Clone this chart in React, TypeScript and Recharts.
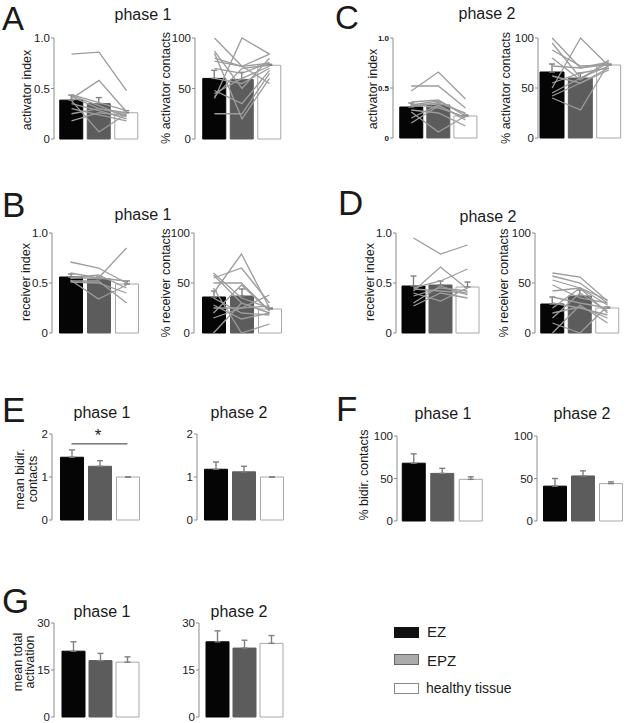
import React from 'react';
import { ComposedChart, Bar, Line, Cell, XAxis, YAxis, ErrorBar, ReferenceLine } from 'recharts';

const CATS = ['EZ', 'EPZ', 'healthy tissue'];
const FILLS = ['#050505', '#5c5c5c', '#ffffff'];
const STROKES = ['#050505', '#5c5c5c', '#a8a8a8'];
const FONT = 'Arial, "Liberation Sans", Helvetica, sans-serif';

// A: activator, phase 1
const actIdxP1Means = [0.385, 0.35, 0.26];
const actIdxP1Errs = [0.05, 0.06, 0.02];
const actIdxP1Subj = [
  [0.84, 0.86, 0.48], [0.4, 0.58, 0.27], [0.38, 0.07, 0.25], [0.44, 0.36, 0.28], [0.43, 0.33, 0.22],
  [0.35, 0.28, 0.2], [0.25, 0.3, 0.24], [0.18, 0.26, 0.23], [0.42, 0.3, 0.26], [0.3, 0.24, 0.18],
];
const actPctP1Means = [60, 59, 73];
const actPctP1Errs = [8, 7, 1];
const actPctP1Subj = [
  [100, 72, 75], [87, 50, 80], [77, 72, 84], [42, 70, 73], [45, 60, 72], [48, 35, 68], [25, 25, 65],
  [85, 20, 60], [80, 72, 55], [40, 100, 84], [60, 55, 70], [70, 65, 76],
];
// C: activator, phase 2
const actIdxP2Means = [0.31, 0.33, 0.22];
const actIdxP2Errs = [0.04, 0.03, 0.01];
const actIdxP2Subj = [
  [0.52, 0.52, 0.3], [0.47, 0.66, 0.39], [0.36, 0.38, 0.22], [0.33, 0.37, 0.24], [0.26, 0.06, 0.22],
  [0.15, 0.32, 0.2], [0.28, 0.25, 0.12], [0.34, 0.3, 0.21], [0.2, 0.33, 0.18], [0.32, 0.35, 0.25],
];
const actPctP2Means = [66, 60, 73];
const actPctP2Errs = [8, 5, 1];
const actPctP2Subj = [
  [95, 60, 75], [88, 72, 73], [80, 58, 78], [50, 100, 72], [40, 28, 75], [42, 55, 70],
  [62, 55, 68], [45, 60, 72], [100, 70, 76], [72, 70, 74], [55, 65, 70],
];
// B: receiver, phase 1
const recIdxP1Means = [0.56, 0.54, 0.49];
const recIdxP1Errs = [0.03, 0.02, 0.03];
const recIdxP1Subj = [
  [0.71, 0.65, 0.5], [0.55, 0.55, 0.85], [0.53, 0.34, 0.48], [0.52, 0.52, 0.3],
  [0.55, 0.58, 0.45], [0.6, 0.55, 0.52], [0.51, 0.5, 0.4],
];
const recPctP1Means = [36, 37, 24];
const recPctP1Errs = [6, 7, 1];
const recPctP1Subj = [
  [58, 30, 20], [50, 50, 22], [40, 79, 25], [55, 65, 30], [20, 48, 22], [15, 25, 38],
  [0, 30, 20], [28, 14, 20], [35, 20, 18], [60, 35, 25], [25, 25, 27], [45, 0, 9],
];
// D: receiver, phase 2
const recIdxP2Means = [0.47, 0.48, 0.46];
const recIdxP2Errs = [0.1, 0.04, 0.05];
const recIdxP2Subj = [
  [0.95, 0.79, 0.88], [0.45, 0.52, 0.64], [0.42, 0.66, 0.44], [0.37, 0.45, 0.42],
  [0.27, 0.4, 0.35], [0.4, 0.32, 0.45], [0.44, 0.42, 0.4], [0.3, 0.47, 0.38],
];
const recPctP2Means = [29, 37, 25];
const recPctP2Errs = [7, 6, 1];
const recPctP2Subj = [
  [60, 56, 32], [57, 50, 30], [53, 45, 28], [42, 45, 33], [36, 30, 25], [25, 45, 20],
  [15, 40, 22], [0, 28, 10], [10, 0, 27], [30, 25, 18], [48, 35, 30], [20, 26, 15],
];
// E: mean bidirectional contacts
const bidirP1Means = [1.46, 1.25, 1.0];
const bidirP1Errs = [0.17, 0.13, 0];
const bidirP2Means = [1.18, 1.12, 1.0];
const bidirP2Errs = [0.17, 0.13, 0];
// F: % bidirectional contacts
const bidirPctP1Means = [68, 56, 49];
const bidirPctP1Errs = [11, 6, 3];
const bidirPctP2Means = [41, 53, 44];
const bidirPctP2Errs = [9, 6, 2];
// G: mean total activation
const totActP1Means = [21, 18, 17.5];
const totActP1Errs = [3, 2.3, 1.7];
const totActP2Means = [24, 22, 23.5];
const totActP2Errs = [3.5, 2.5, 2.5];

const IDX_TICKS = [0, 0.5, 1];
const IDX_LABELS = ['0', '0.5', '1.0'];
const PCT_TICKS = [0, 50, 100];
const BIDIR_TICKS = [0, 1, 2];
const ACT_TICKS = [0, 15, 30];

type Geo = { axis: number; x0: number; x2: number; end: number; top: number; zero: number; bw?: number };

function Panel({ g, max, ticks, labels, means, errs, subjects = [], small, sig }: any) {
  const geo: Geo = g;
  const bw = geo.bw ?? 23;
  const YW = 40, MT = 9, MB = 9, MR = 2;
  const c0 = geo.x0 + bw / 2;
  const c2 = geo.x2 - bw / 2;
  const step = (c2 - c0) / 2;
  const padL = Math.max(0, c0 - step / 2 - geo.axis);
  const padR = Math.max(0, geo.end - (c2 + step / 2));
  const width = YW + (geo.end - geo.axis) + MR;
  const height = MT + (geo.zero - geo.top) + MB;

  const data = CATS.map((c, i) => {
    const row: any = { cat: c, mean: means[i], err: [0, errs[i]] };
    subjects.forEach((s: number[], k: number) => { row['s' + k] = s[i]; });
    return row;
  });

  return (
    <div style={{ position: 'absolute', left: geo.axis - YW, top: geo.top - MT }}>
      <ComposedChart width={width} height={height} data={data} margin={{ top: MT, right: MR, bottom: MB, left: 0 }}>
        <XAxis dataKey="cat" height={0} tick={false} tickLine={false}
          axisLine={{ stroke: '#8c8c8c' }} padding={{ left: padL, right: padR }} />
        <YAxis width={YW} domain={[0, max]} ticks={ticks} interval={0}
          tickFormatter={(v: number) => (labels ? labels[ticks.indexOf(v)] : String(v))}
          axisLine={{ stroke: '#8c8c8c' }} tickLine={{ stroke: '#8c8c8c' }} tickSize={3} tickMargin={1}
          tick={{ fill: '#1a1a1a', fontSize: small ? 8 : 11.5, fontWeight: small ? 'bold' : 'normal', fontFamily: FONT }} />
        <Bar dataKey="mean" barSize={bw} isAnimationActive={false}>
          {data.map((d, i) => (
            <Cell key={d.cat} fill={FILLS[i]} stroke={STROKES[i]} strokeWidth={1} />
          ))}
          <ErrorBar dataKey="err" direction="y" width={3} stroke="#808080" strokeWidth={1.4} />
        </Bar>
        {subjects.map((_: number[], k: number) => (
          <Line key={k} dataKey={'s' + k} type="linear" stroke="#9c9c9c" strokeWidth={1.3}
            dot={false} activeDot={false} isAnimationActive={false} />
        ))}
        {sig && (
          <ReferenceLine segment={[{ x: 'EZ', y: sig }, { x: 'healthy tissue', y: sig }]}
            stroke="#333" strokeWidth={1} ifOverflow="visible" />
        )}
      </ComposedChart>
    </div>
  );
}

const T = (x: number, y: number, s: string, size = 16, anchor = 'middle') => (
  <text x={x} y={y} fontSize={size} textAnchor={anchor as any} fill="#1a1a1a" fontFamily={FONT}>{s}</text>
);
const R = (x: number, y: number, s: string, size = 12.5) => (
  <text transform={`translate(${x},${y}) rotate(-90)`} fontSize={size} textAnchor="middle"
    dominantBaseline="central" fill="#1a1a1a" fontFamily={FONT}>{s}</text>
);

export default function App() {
  return (
    <div style={{ position: 'absolute', left: 0, top: 0, width: 635, height: 723, background: '#fff', overflow: 'hidden' }}>
      <Panel g={{ axis: 54, x0: 60, x2: 138, end: 143, top: 38, zero: 139 }} max={1} ticks={IDX_TICKS} labels={IDX_LABELS}
        means={actIdxP1Means} errs={actIdxP1Errs} subjects={actIdxP1Subj} />
      <Panel g={{ axis: 195, x0: 203, x2: 281, end: 284, top: 38, zero: 139 }} max={100} ticks={PCT_TICKS}
        means={actPctP1Means} errs={actPctP1Errs} subjects={actPctP1Subj} />
      <Panel g={{ axis: 393, x0: 400, x2: 478, end: 479, top: 38, zero: 138 }} max={1} ticks={IDX_TICKS} labels={IDX_LABELS} small
        means={actIdxP2Means} errs={actIdxP2Errs} subjects={actIdxP2Subj} />
      <Panel g={{ axis: 538, x0: 540, x2: 622, end: 623, top: 38, zero: 138, bw: 24 }} max={100} ticks={PCT_TICKS}
        means={actPctP2Means} errs={actPctP2Errs} subjects={actPctP2Subj} />

      <Panel g={{ axis: 52, x0: 59, x2: 138, end: 143, top: 233, zero: 333 }} max={1} ticks={IDX_TICKS} labels={IDX_LABELS}
        means={recIdxP1Means} errs={recIdxP1Errs} subjects={recIdxP1Subj} />
      <Panel g={{ axis: 194, x0: 202, x2: 281, end: 284, top: 233, zero: 333 }} max={100} ticks={PCT_TICKS}
        means={recPctP1Means} errs={recPctP1Errs} subjects={recPctP1Subj} />
      <Panel g={{ axis: 396, x0: 402, x2: 479, end: 481, top: 233, zero: 333 }} max={1} ticks={IDX_TICKS} labels={IDX_LABELS}
        means={recIdxP2Means} errs={recIdxP2Errs} subjects={recIdxP2Subj} />
      <Panel g={{ axis: 535, x0: 541, x2: 619, end: 622, top: 233, zero: 333 }} max={100} ticks={PCT_TICKS}
        means={recPctP2Means} errs={recPctP2Errs} subjects={recPctP2Subj} />

      <Panel g={{ axis: 52, x0: 60, x2: 139, end: 143, top: 434, zero: 520 }} max={2} ticks={BIDIR_TICKS}
        means={bidirP1Means} errs={bidirP1Errs} sig={1.77} />
      <Panel g={{ axis: 197, x0: 204, x2: 283, end: 296, top: 434, zero: 520 }} max={2} ticks={BIDIR_TICKS}
        means={bidirP2Means} errs={bidirP2Errs} />
      <Panel g={{ axis: 397, x0: 402, x2: 482, end: 487, top: 436, zero: 521 }} max={100} ticks={PCT_TICKS}
        means={bidirPctP1Means} errs={bidirPctP1Errs} />
      <Panel g={{ axis: 537, x0: 543, x2: 622, end: 630, top: 436, zero: 521 }} max={100} ticks={PCT_TICKS}
        means={bidirPctP2Means} errs={bidirPctP2Errs} />

      <Panel g={{ axis: 54, x0: 62, x2: 139, end: 146, top: 623, zero: 717 }} max={30} ticks={ACT_TICKS}
        means={totActP1Means} errs={totActP1Errs} />
      <Panel g={{ axis: 199, x0: 206, x2: 283, end: 293, top: 623, zero: 717 }} max={30} ticks={ACT_TICKS}
        means={totActP2Means} errs={totActP2Errs} />

      <svg width={635} height={723} style={{ position: 'absolute', left: 0, top: 0, pointerEvents: 'none' }}>
        {T(2, 30, 'A', 33, 'start')}
        {T(335, 29, 'C', 33, 'start')}
        {T(2, 217, 'B', 35, 'start')}
        {T(338, 215, 'D', 35, 'start')}
        {T(2, 422, 'E', 35, 'start')}
        {T(336, 421, 'F', 35, 'start')}
        {T(2, 613, 'G', 35, 'start')}

        {T(143, 20, 'phase 1')}
        {T(487, 19, 'phase 2')}
        {T(143, 220, 'phase 1')}
        {T(488, 222, 'phase 2')}
        {T(102, 418, 'phase 1')}
        {T(239, 418, 'phase 2')}
        {T(443, 419, 'phase 1')}
        {T(582, 419, 'phase 2')}
        {T(102, 617, 'phase 1')}
        {T(239, 617, 'phase 2')}

        {R(27, 90, 'activator index')}
        {R(166, 88, '% activator contacts')}
        {R(373, 89, 'activator index')}
        {R(506, 88, '% activator contacts')}
        {R(26, 282, 'receiver index')}
        {R(166, 283, '% receiver contacts')}
        {R(370, 282, 'receiver index')}
        {R(504, 283, '% receiver contacts')}
        {R(20, 479, 'mean bidir.')}
        {R(33, 479, 'contacts')}
        {R(364, 475, '% bidir. contacts')}
        {R(18, 662, 'mean total')}
        {R(30, 662, 'activation')}

        <text x={98} y={441} fontSize={17} textAnchor="middle" fill="#1a1a1a" fontFamily={FONT}>*</text>

        <rect x={394.5} y={627.5} width={24} height={10} fill="#111" stroke="#111" />
        <rect x={394.5} y={654.5} width={24} height={10} fill="#ababab" stroke="#666" />
        <rect x={394.5} y={683.5} width={24} height={10} fill="#fff" stroke="#888" />
        {T(427, 637, 'EZ', 15, 'start')}
        {T(427, 666, 'EPZ', 15, 'start')}
        {T(426, 693, 'healthy tissue', 14, 'start')}
      </svg>
    </div>
  );
}
